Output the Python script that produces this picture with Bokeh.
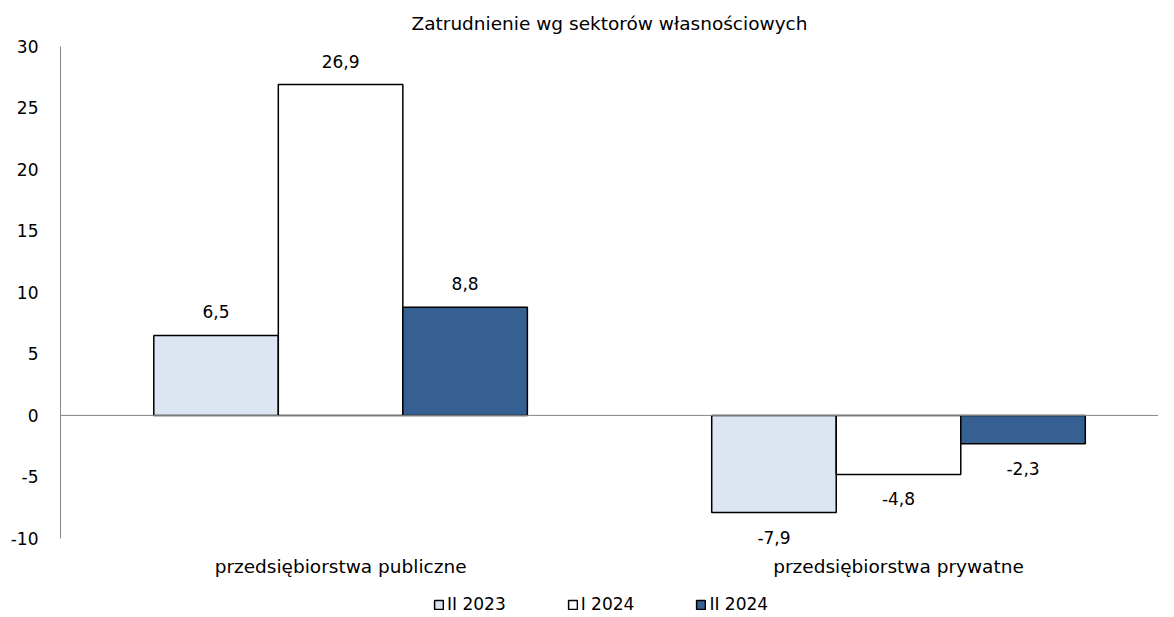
from bokeh.plotting import figure
from bokeh.models import (ColumnDataSource, Range1d, FixedTicker, Span, Legend,
                          LegendItem)
from bokeh.embed import file_html
from bokeh.resources import INLINE
from bokeh.core.properties import value

categories = ["przedsiębiorstwa publiczne", "przedsiębiorstwa prywatne"]
series = ["II 2023", "I 2024", "II 2024"]
ii_2023 = [6.5, -7.9]
i_2024 = [26.9, -4.8]
ii_2024 = [8.8, -2.3]
y_ticks = [-10, -5, 0, 5, 10, 15, 20, 25, 30]

colors = ["#DCE6F2", "#FFFFFF", "#376092"]
FONT = "DejaVu Sans"

p = figure(width=1158, height=614, output_backend="svg", toolbar_location=None,
           x_range=Range1d(-0.002, 1.966), y_range=Range1d(-16.19, 30),
           x_axis_location=None,
           min_border_left=60, min_border_right=0, min_border_top=46,
           min_border_bottom=0)
p.outline_line_color = None
p.xgrid.visible = False
p.ygrid.visible = False
p.background_fill_color = "white"
p.border_fill_color = "white"

p.title.text = "Zatrudnienie wg sektorów własnościowych"
p.title.align = "center"
p.title.vertical_align = "top"
p.title.text_font = FONT
p.title.text_font_style = "normal"
p.title.text_font_size = "18.5px"
p.title.text_color = "#000000"
p.title.standoff = 21

centers = [0.5, 1.5]
bw = 0.2232
offsets = [-bw, 0.0, bw]
all_vals = [ii_2023, i_2024, ii_2024]

items = []
for s, vals, col, off in zip(series, all_vals, colors, offsets):
    xs = [c + off for c in centers]
    labels = [f"{v:.1f}".replace(".", ",") for v in vals]
    src = ColumnDataSource(dict(x=xs, top=vals))
    r = p.vbar(x="x", top="top", bottom=0, width=bw, source=src,
               fill_color=col, line_color="#000000", line_width=1.5)
    items.append(LegendItem(label=s, renderers=[r]))
    pos_src = ColumnDataSource(dict(x=[x for x, v in zip(xs, vals) if v >= 0],
                                    y=[v for v in vals if v >= 0],
                                    lab=[l for l, v in zip(labels, vals) if v >= 0]))
    neg_src = ColumnDataSource(dict(x=[x for x, v in zip(xs, vals) if v < 0],
                                    y=[v for v in vals if v < 0],
                                    lab=[l for l, v in zip(labels, vals) if v < 0]))
    p.text(x="x", y="y", text="lab", source=pos_src, text_align="center",
           text_baseline="bottom", y_offset=-17, text_font=value(FONT),
           text_font_size="17px", text_color="#000000")
    p.text(x="x", y="y", text="lab", source=neg_src, text_align="center",
           text_baseline="top", y_offset=18, text_font=value(FONT),
           text_font_size="17px", text_color="#000000")

# category labels below the value axis range
cat_src = ColumnDataSource(dict(x=centers, y=[y_ticks[0]] * len(centers), lab=categories))
p.text(x="x", y="y", text="lab", source=cat_src, text_align="center",
       text_baseline="middle", y_offset=28, text_font=value(FONT),
       text_font_size="18.5px", text_color="#000000")

p.add_layout(Span(location=0, dimension="width", line_color="#868686", line_width=1))

# y axis
p.yaxis.ticker = FixedTicker(ticks=y_ticks)
p.yaxis.major_label_overrides = {t: str(t) for t in y_ticks}
p.yaxis.bounds = (y_ticks[0], y_ticks[-1])
p.yaxis.major_tick_line_color = None
p.yaxis.minor_tick_line_color = None
p.yaxis.axis_line_color = "#868686"
p.yaxis.major_label_standoff = 16
p.yaxis.major_label_text_font = FONT
p.yaxis.major_label_text_font_size = "17px"
p.yaxis.major_label_text_color = "#000000"

legend = Legend(items=items, orientation="horizontal", location=(373, 0),
                glyph_width=11, glyph_height=11, label_standoff=3, spacing=61,
                padding=0, margin=0, border_line_color=None,
                background_fill_alpha=0,
                label_text_font=FONT, label_text_font_size="17px",
                label_text_color="#000000", label_height=17)
p.add_layout(legend)

open("out.html", "w").write(file_html(p, INLINE))
